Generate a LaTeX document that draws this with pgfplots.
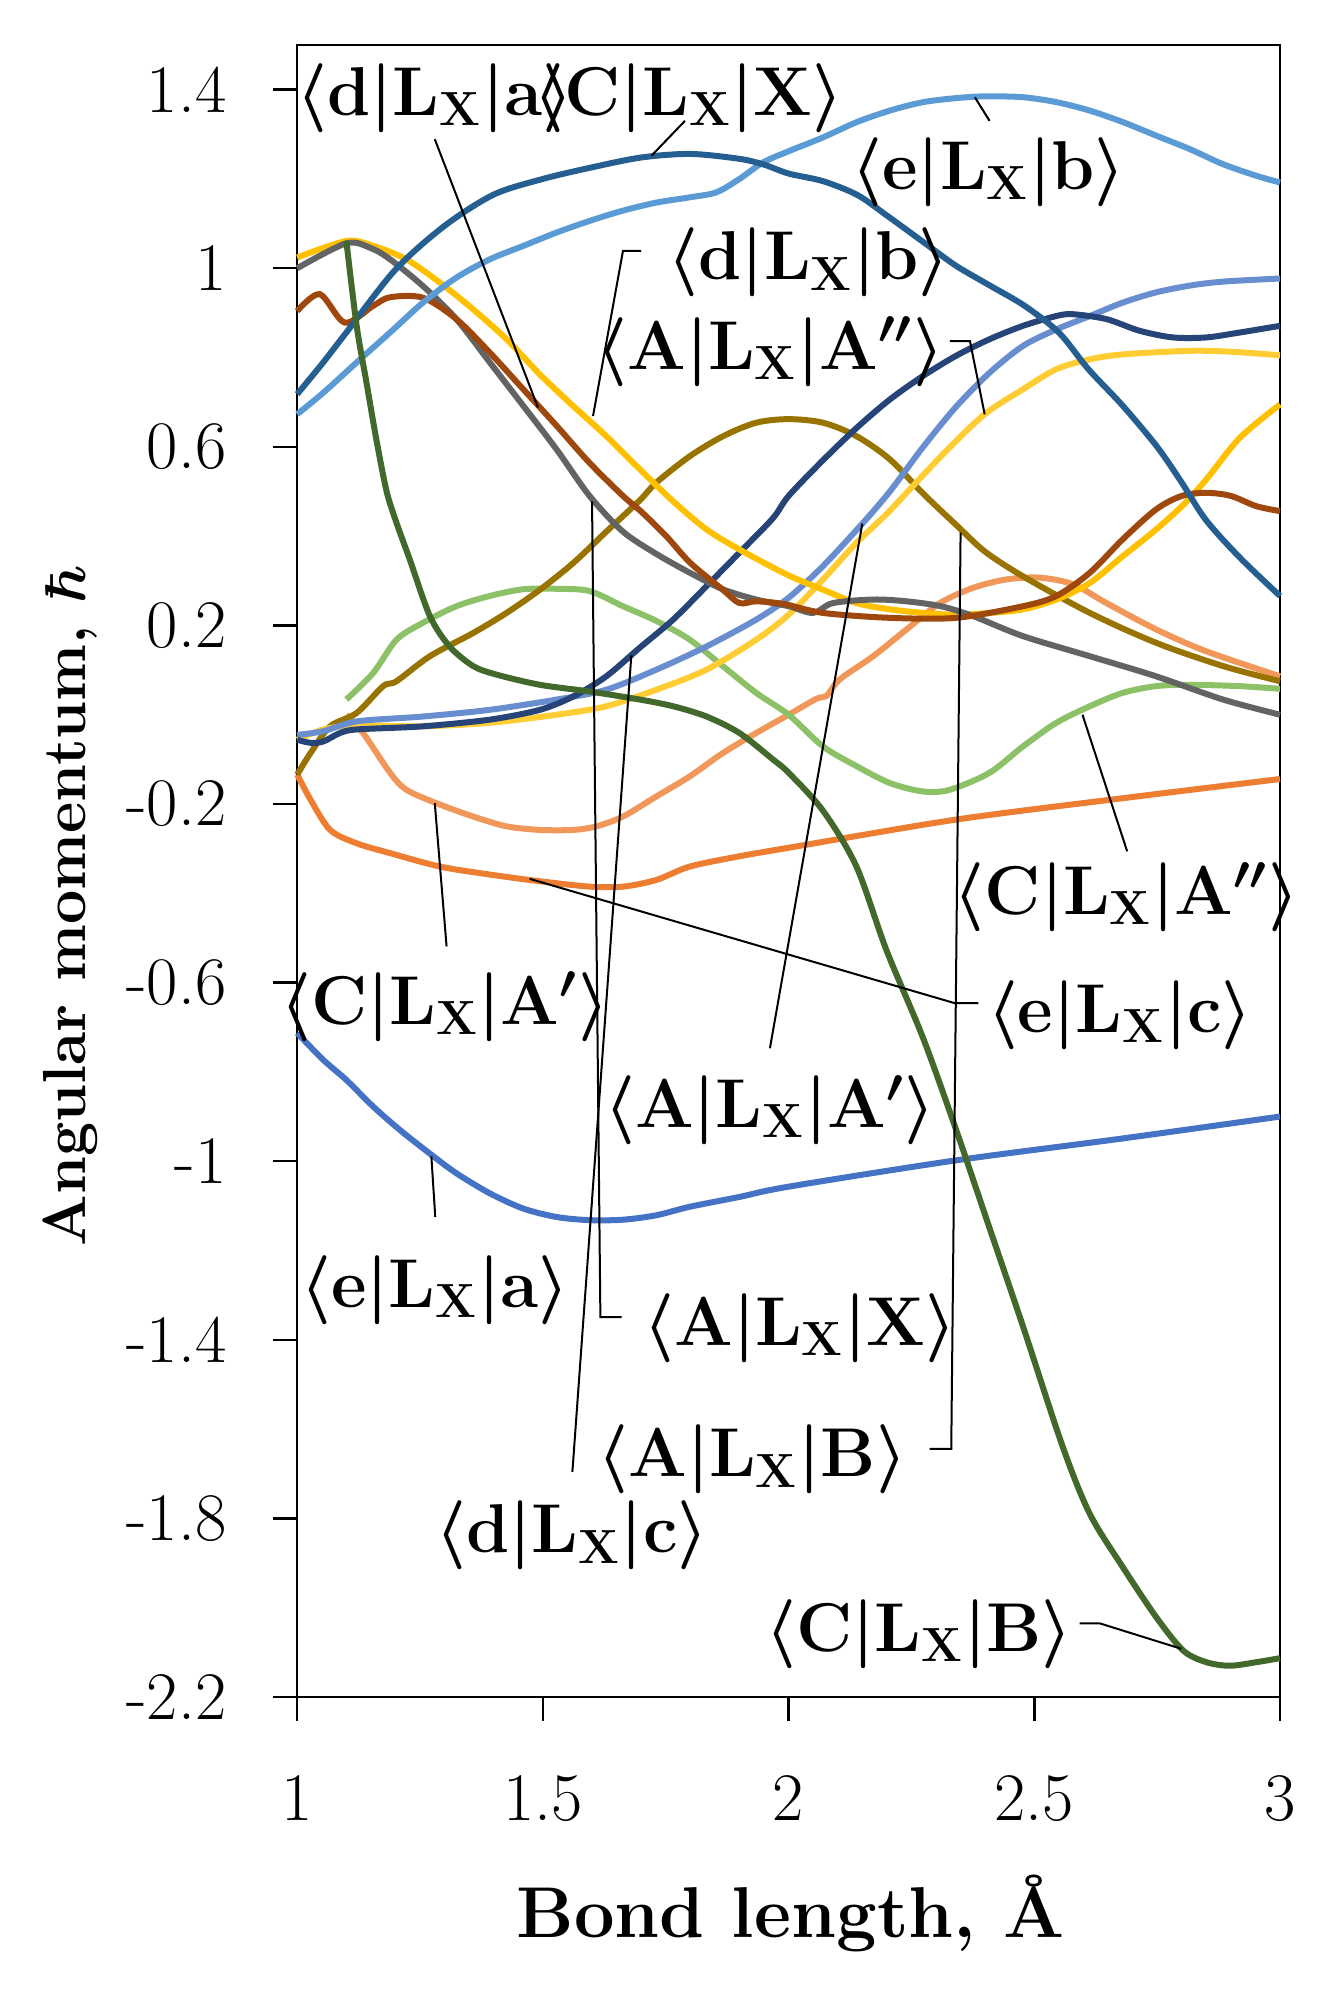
\documentclass[border=0pt]{standalone}
\usepackage{pgfplots}
\pgfplotsset{compat=1.18}
\definecolor{cCX}{HTML}{255E91}
\definecolor{ceb}{HTML}{5B9BD5}
\definecolor{cda}{HTML}{9E480E}
\definecolor{cAX}{HTML}{636363}
\definecolor{cdb}{HTML}{FFC000}
\definecolor{cdc}{HTML}{264478}
\definecolor{cAAp}{HTML}{698ED0}
\definecolor{cAApp}{HTML}{FFCD33}
\definecolor{cAB}{HTML}{997300}
\definecolor{cCApp}{HTML}{8CC168}
\definecolor{cCAp}{HTML}{F1975A}
\definecolor{cec}{HTML}{ED7D31}
\definecolor{cea}{HTML}{4472C4}
\definecolor{cCB}{HTML}{43682B}
\newcommand{\lab}[3][]{{\boldmath$\langle\mathbf{#2}|\mathbf{L}_{\mathbf{X}}|\mathbf{#3}#1\rangle$}}
\begin{document}
\begin{tikzpicture}
\useasboundingbox (-74.3pt,-73pt) rectangle (257.95pt,424.25pt);
\begin{axis}[
  at={(0,0)}, anchor=south west, scale only axis,
  width=245.7pt, height=413pt,
  xmin=1, xmax=3, ymin=-2.2, ymax=1.5,
  clip=false,
  xtick={1,1.5,2,2.5,3}, xticklabels={1,1.5,2,2.5,3},
  ytick={-2.2,-1.8,-1.4,-1,-0.6,-0.2,0.2,0.6,1,1.4},
  yticklabels={-2.2,-1.8,-1.4,-1,-0.6,-0.2,0.2,0.6,1,1.4},
  tick align=outside, xtick pos=bottom, ytick pos=left,
  major tick length=6pt,
  axis line style={line width=0.6pt},
  tick style={black, line width=0.6pt},
  ticklabel style={font=\fontsize{17}{20}\selectfont},
  xticklabel style={yshift=-10pt},
  yticklabel style={xshift=-8.2pt},
  xlabel={\bfseries Bond length, \AA},
  ylabel={\bfseries Angular momentum, {\boldmath$\hbar$}},
  xlabel style={font=\fontsize{18}{22}\selectfont, at={(axis description cs:0.502,0)}, anchor=center, yshift=-54pt},
  ylabel style={font=\fontsize{15.2}{18}\selectfont, at={(axis description cs:-0.231,0.479)}, anchor=center},
  every axis plot/.append style={line width=1.5pt, smooth, tension=0.5, no markers},
]
% e|a
\addplot[cea] coordinates {(1.0,-0.713)(1.053,-0.773)(1.1,-0.818)(1.155,-0.878)(1.209,-0.93)(1.27,-0.983)(1.324,-1.027)(1.392,-1.072)(1.46,-1.106)(1.528,-1.125)(1.595,-1.132)(1.663,-1.131)(1.731,-1.121)(1.799,-1.102)(1.9,-1.08)(2.0,-1.057)(2.341,-0.998)(2.68,-0.949)(3.0,-0.9)};
% e|c
\addplot[cec] coordinates {(1.0,-0.134)(1.027,-0.19)(1.067,-0.258)(1.121,-0.288)(1.189,-0.31)(1.29,-0.34)(1.392,-0.358)(1.494,-0.373)(1.595,-0.385)(1.663,-0.385)(1.731,-0.37)(1.799,-0.34)(1.9,-0.317)(2.0,-0.298)(2.34,-0.235)(2.68,-0.187)(3.0,-0.144)};
% C|A'
\addplot[cCAp] coordinates {(1.1,0.0)(1.134,-0.041)(1.189,-0.13)(1.222,-0.168)(1.283,-0.198)(1.358,-0.228)(1.426,-0.25)(1.494,-0.258)(1.562,-0.258)(1.609,-0.25)(1.663,-0.228)(1.731,-0.183)(1.799,-0.138)(1.866,-0.086)(1.934,-0.041)(2.0,0.0)(2.057,0.036)(2.077,0.042)(2.104,0.079)(2.172,0.131)(2.24,0.191)(2.308,0.25)(2.375,0.284)(2.443,0.303)(2.511,0.307)(2.579,0.292)(2.647,0.25)(2.748,0.191)(2.85,0.142)(3.0,0.086)};
% C|A''
\addplot[cCApp] coordinates {(1.1,0.034)(1.155,0.094)(1.202,0.168)(1.256,0.206)(1.324,0.243)(1.392,0.266)(1.46,0.281)(1.528,0.282)(1.595,0.277)(1.663,0.243)(1.731,0.21)(1.799,0.168)(1.866,0.109)(1.934,0.049)(2.0,0.0)(2.07,-0.071)(2.138,-0.115)(2.206,-0.153)(2.274,-0.172)(2.328,-0.168)(2.409,-0.13)(2.477,-0.071)(2.545,-0.018)(2.613,0.019)(2.68,0.049)(2.748,0.064)(2.816,0.067)(2.918,0.064)(3.0,0.058)};
% A|B
\addplot[cAB] coordinates {(1.0,-0.134)(1.027,-0.086)(1.067,-0.026)(1.121,0.004)(1.175,0.064)(1.202,0.075)(1.27,0.131)(1.358,0.183)(1.426,0.228)(1.494,0.28)(1.562,0.34)(1.629,0.41)(1.697,0.48)(1.731,0.52)(1.799,0.579)(1.867,0.624)(1.934,0.654)(2.0,0.662)(2.07,0.654)(2.138,0.624)(2.206,0.572)(2.274,0.495)(2.341,0.425)(2.4,0.365)(2.477,0.31)(2.613,0.228)(2.748,0.161)(2.884,0.109)(3.0,0.075)};
% A|A''
\addplot[cAApp] coordinates {(1.0,-0.056)(1.053,-0.033)(1.121,-0.024)(1.256,-0.026)(1.392,-0.018)(1.528,0.0)(1.629,0.019)(1.731,0.056)(1.833,0.101)(1.934,0.168)(2.0,0.224)(2.07,0.303)(2.138,0.385)(2.2,0.45)(2.24,0.497)(2.32,0.59)(2.399,0.673)(2.477,0.729)(2.545,0.774)(2.613,0.796)(2.68,0.807)(2.816,0.815)(2.9,0.813)(3.0,0.805)};
% A|A'
\addplot[cAAp] coordinates {(1.0,-0.045)(1.053,-0.037)(1.121,-0.015)(1.256,-0.004)(1.392,0.011)(1.528,0.034)(1.629,0.056)(1.731,0.101)(1.833,0.153)(1.934,0.213)(2.0,0.262)(2.07,0.333)(2.15,0.428)(2.206,0.5)(2.274,0.6)(2.341,0.69)(2.409,0.766)(2.477,0.826)(2.545,0.863)(2.613,0.893)(2.68,0.923)(2.748,0.946)(2.816,0.961)(2.884,0.97)(3.0,0.977)};
% d|c
\addplot[cdc] coordinates {(1.0,-0.056)(1.027,-0.063)(1.053,-0.06)(1.087,-0.041)(1.121,-0.033)(1.256,-0.026)(1.392,-0.011)(1.494,0.011)(1.562,0.041)(1.629,0.086)(1.697,0.15)(1.765,0.213)(1.833,0.288)(1.9,0.363)(1.968,0.44)(2.0,0.49)(2.07,0.57)(2.138,0.642)(2.206,0.706)(2.274,0.759)(2.341,0.804)(2.409,0.841)(2.477,0.871)(2.545,0.893)(2.579,0.897)(2.647,0.886)(2.714,0.86)(2.782,0.845)(2.85,0.845)(2.918,0.856)(3.0,0.871)};
% d|b
\addplot[cdb] coordinates {(1.0,1.024)(1.1,1.061)(1.155,1.05)(1.222,1.02)(1.29,0.968)(1.358,0.908)(1.426,0.841)(1.494,0.762)(1.562,0.691)(1.629,0.624)(1.697,0.55)(1.765,0.478)(1.833,0.415)(1.9,0.37)(2.0,0.312)(2.07,0.28)(2.138,0.25)(2.206,0.236)(2.274,0.228)(2.34,0.224)(2.41,0.228)(2.477,0.236)(2.545,0.258)(2.613,0.295)(2.68,0.355)(2.748,0.415)(2.803,0.47)(2.85,0.527)(2.918,0.62)(3.0,0.695)};
% A|X
\addplot[cAX] coordinates {(1.0,1.0)(1.1,1.056)(1.15,1.045)(1.189,1.02)(1.256,0.96)(1.324,0.886)(1.392,0.789)(1.46,0.692)(1.528,0.594)(1.595,0.49)(1.663,0.41)(1.731,0.36)(1.799,0.318)(1.866,0.281)(1.934,0.258)(2.0,0.243)(2.05,0.228)(2.09,0.25)(2.172,0.258)(2.24,0.254)(2.31,0.243)(2.375,0.221)(2.477,0.176)(2.613,0.131)(2.748,0.086)(2.884,0.034)(3.0,0.0)};
% d|a
\addplot[cda] coordinates {(1.0,0.904)(1.046,0.942)(1.097,0.878)(1.155,0.916)(1.189,0.935)(1.256,0.934)(1.324,0.886)(1.392,0.811)(1.46,0.729)(1.528,0.647)(1.595,0.564)(1.663,0.49)(1.7,0.455)(1.751,0.4)(1.8,0.34)(1.866,0.28)(1.9,0.25)(1.934,0.254)(1.99,0.248)(2.07,0.228)(2.206,0.217)(2.341,0.217)(2.477,0.243)(2.545,0.266)(2.613,0.318)(2.68,0.393)(2.748,0.46)(2.8,0.49)(2.85,0.497)(2.9,0.49)(2.952,0.467)(3.0,0.456)};
% e|b
\addplot[ceb] coordinates {(1.0,0.673)(1.053,0.721)(1.121,0.789)(1.189,0.856)(1.256,0.923)(1.324,0.979)(1.392,1.02)(1.46,1.05)(1.528,1.08)(1.595,1.106)(1.663,1.129)(1.731,1.147)(1.8,1.159)(1.853,1.17)(1.9,1.2)(1.948,1.237)(2.0,1.262)(2.07,1.293)(2.138,1.327)(2.206,1.353)(2.274,1.372)(2.341,1.381)(2.4,1.385)(2.477,1.383)(2.545,1.372)(2.613,1.353)(2.681,1.327)(2.748,1.297)(2.816,1.267)(2.884,1.233)(2.952,1.207)(3.0,1.192)};
% C|X
\addplot[cCX] coordinates {(1.0,0.718)(1.05,0.785)(1.1,0.856)(1.2,0.997)(1.3,1.095)(1.4,1.165)(1.5,1.2)(1.6,1.226)(1.7,1.248)(1.8,1.256)(1.9,1.245)(1.95,1.232)(2.0,1.212)(2.07,1.195)(2.14,1.164)(2.2,1.118)(2.27,1.062)(2.34,1.006)(2.41,0.961)(2.48,0.916)(2.55,0.856)(2.61,0.774)(2.68,0.692)(2.75,0.6)(2.8,0.52)(2.85,0.435)(2.92,0.35)(3.0,0.266)};
% C|B
\addplot[cCB] coordinates {(1.1,1.061)(1.121,0.871)(1.141,0.744)(1.161,0.617)(1.182,0.5)(1.202,0.43)(1.229,0.348)(1.27,0.221)(1.31,0.153)(1.358,0.109)(1.405,0.09)(1.494,0.067)(1.595,0.052)(1.697,0.034)(1.765,0.019)(1.833,-0.004)(1.9,-0.041)(1.968,-0.1)(2.0,-0.13)(2.07,-0.215)(2.138,-0.34)(2.199,-0.527)(2.274,-0.725)(2.341,-0.93)(2.409,-1.15)(2.477,-1.37)(2.558,-1.64)(2.613,-1.79)(2.68,-1.909)(2.748,-2.021)(2.803,-2.096)(2.85,-2.122)(2.898,-2.13)(2.952,-2.122)(3.0,-2.113)};

% leader lines
\begin{scope}[line width=0.5pt, black]
\draw (axis cs:1.280,1.289) -- (axis cs:1.490,0.688);
\draw (axis cs:1.789,1.330) -- (axis cs:1.721,1.252);
\draw (axis cs:2.379,1.383) -- (axis cs:2.409,1.330);
\draw (axis cs:1.700,1.039) -- (axis cs:1.663,1.039) -- (axis cs:1.602,0.669);
\draw (axis cs:2.328,0.837) -- (axis cs:2.369,0.837) -- (axis cs:2.399,0.673);
\draw (axis cs:2.598,0.0) -- (axis cs:2.689,-0.306);
\draw (axis cs:1.473,-0.3675) -- (axis cs:2.338,-0.646) -- (axis cs:2.386,-0.646);
\draw (axis cs:1.280,-0.198) -- (axis cs:1.304,-0.519);
\draw (axis cs:2.150,0.428) -- (axis cs:1.962,-0.747);
\draw (axis cs:1.273,-0.989) -- (axis cs:1.281,-1.125);
\draw (axis cs:1.600,0.478) -- (axis cs:1.617,-1.349) -- (axis cs:1.660,-1.349);
\draw (axis cs:1.680,0.133) -- (axis cs:1.560,-1.696);
\draw (axis cs:2.350,0.408) -- (axis cs:2.331,-1.644) -- (axis cs:2.287,-1.644);
\draw (axis cs:2.592,-2.035) -- (axis cs:2.633,-2.035) -- (axis cs:2.799,-2.092);
\end{scope}

% labels
\begin{scope}[every node/.style={font=\fontsize{17}{20}\selectfont, inner sep=0pt, anchor=center}]
\node at (axis cs:1.280,1.381) {\lab{d}{a}};
\node at (axis cs:1.796,1.381) {\lab{C}{X}};
\node at (axis cs:2.407,1.215) {\lab{e}{b}};
\node at (axis cs:2.041,1.013) {\lab{d}{b}};
\node at (axis cs:1.963,0.813) {\lab[^{\prime\prime}]{A}{A}};
\node at (axis cs:2.688,-0.409) {\lab[^{\prime\prime}]{C}{A}};
\node at (axis cs:2.674,-0.672) {\lab{e}{c}};
\node at (axis cs:1.300,-0.654) {\lab[^{\prime}]{C}{A}};
\node at (axis cs:1.962,-0.885) {\lab[^{\prime}]{A}{A}};
\node at (axis cs:1.280,-1.289) {\lab{e}{a}};
\node at (axis cs:2.023,-1.373) {\lab{A}{X}};
\node at (axis cs:1.926,-1.668) {\lab{A}{B}};
\node at (axis cs:1.559,-1.838) {\lab{d}{c}};
\node at (axis cs:2.265,-2.059) {\lab{C}{B}};
\end{scope}
\end{axis}
\end{tikzpicture}
\end{document}
